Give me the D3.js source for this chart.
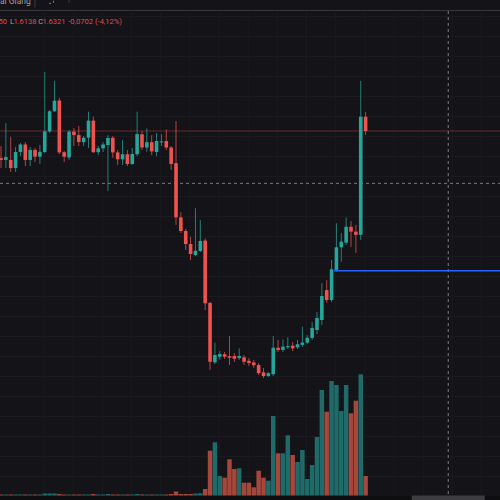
<!DOCTYPE html>
<html><head><meta charset="utf-8">
<script src="https://cdn.jsdelivr.net/npm/d3@7"></script>
<style>html,body{margin:0;padding:0;background:#141318;overflow:hidden}svg{display:block}</style>
</head><body><svg id="c" width="500" height="500"></svg>
<script>
// ---- data ----
const opens  = [1.500,1.490,1.490,1.450,1.529,1.566,1.490,1.539,1.506,1.529,1.630,1.729,1.782,1.528,1.502,1.629,1.612,1.577,1.599,1.683,
                1.528,1.547,1.563,1.599,1.527,1.493,1.518,1.470,1.518,1.616,1.551,1.577,1.529,1.576,1.583,1.551,1.474,1.208,1.141,1.077,
                1.023,1.043,1.094,0.788,0.496,0.524,0.536,0.527,0.527,0.517,0.521,0.504,0.496,0.483,0.447,0.429,0.438,0.568,0.557,0.570,
                0.578,0.570,0.582,0.593,0.616,0.655,0.704,0.851,0.802,0.950,1.061,1.084,1.162,1.138,1.122,1.7023];
const highs  = [1.558,1.671,1.603,1.554,1.573,1.578,1.554,1.549,1.563,1.922,1.735,1.879,1.794,1.534,1.637,1.647,1.657,1.608,1.727,1.702,
                1.558,1.578,1.612,1.608,1.539,1.588,1.539,1.549,1.727,1.632,1.645,1.612,1.622,1.617,1.640,1.558,1.681,1.233,1.151,1.113,
                1.253,1.195,1.105,0.793,0.593,0.552,0.547,0.625,0.542,0.565,0.532,0.517,0.508,0.493,0.468,0.449,0.625,0.606,0.609,0.619,
                0.596,0.606,0.671,0.630,0.694,0.743,0.886,0.900,0.999,1.179,1.131,1.208,1.190,1.171,1.879,1.7250];
const lows   = [1.450,1.450,1.431,1.431,1.509,1.460,1.460,1.480,1.470,1.524,1.622,1.725,1.519,1.480,1.490,1.558,1.558,1.558,1.549,1.524,
                1.514,1.529,1.337,1.500,1.465,1.465,1.460,1.465,1.509,1.539,1.530,1.514,1.509,1.558,1.539,1.441,1.171,1.131,1.048,0.999,
                1.018,1.038,0.753,0.459,0.488,0.508,0.513,0.483,0.498,0.508,0.483,0.478,0.468,0.434,0.419,0.424,0.429,0.547,0.547,0.562,
                0.552,0.562,0.572,0.587,0.606,0.635,0.679,0.788,0.792,0.940,0.990,1.072,1.063,1.033,1.097,1.6138];
const closes = [1.490,1.504,1.450,1.529,1.566,1.490,1.539,1.506,1.530,1.630,1.729,1.781,1.527,1.506,1.629,1.612,1.578,1.599,1.683,1.528,
                1.547,1.566,1.598,1.527,1.493,1.518,1.470,1.519,1.617,1.551,1.577,1.532,1.583,1.581,1.551,1.470,1.208,1.141,1.077,1.028,
                1.044,1.092,0.786,0.499,0.532,0.537,0.524,0.519,0.514,0.527,0.499,0.493,0.482,0.443,0.429,0.443,0.568,0.557,0.573,0.576,
                0.565,0.585,0.593,0.617,0.665,0.714,0.822,0.802,0.953,1.061,1.089,1.162,1.138,1.122,1.7023,1.6321];
const volumes = [1,1,1,1,1,1,1,1,1,2,2,2,1.5,1,1,1,1,1,1,1.5,
                 1,1,1.5,1,1,1,1,1,1.5,1,1,1,1,1,1,1.5,4,1.5,1.5,1.5,
                 2,2.2,6.5,44.8,53.2,19.5,17.8,36.2,26.5,27.2,12.8,12.8,8.2,24.8,17.8,14.8,79.5,42.2,42.2,60.2,
                 40.5,33.5,45.5,16.5,30.5,58.5,105.5,83.8,114.5,110.5,84.5,110.5,82.2,94.8,121.2,19.5];
const legendParts = [
  {t:"50", red:true, x:-1.5}, {t:"L", red:false, x:10}, {t:"1.6138", red:true, x:13.4},
  {t:"C", red:false, x:38.3}, {t:"1.6321", red:true, x:42.4}, {t:"-0,0702", red:true, x:68.3}, {t:"(-4,12%)", red:true, x:95}
];
const toolbarTitle = "al Giang";
const crosshairPrice = 1.375;
const alertPrice = 0.946;
const crosshairIndex = 92.0;

// ---- drawing ----
const W = 500, H = 500;
const svg = d3.select("#c");
const UP = "#26a69a", DOWN = "#ef5350";
const n = closes.length;

const x = d3.scaleLinear().domain([0, n - 1]).range([1, 365.6]);
const y = d3.scaleLinear().domain([2.2753, -0.1797]).range([0, 500]);
const yv = d3.scaleLinear().domain([0, 125]).range([495.5, 370.5]);

svg.append("rect").attr("width", W).attr("height", H).attr("fill", "#141318");

// faint grid
const grid = svg.append("g").attr("stroke", "#1b1a1f").attr("stroke-width", 1);
d3.range(16.5, 495, 20).forEach(v => grid.append("line").attr("x1", 0).attr("x2", W).attr("y1", v).attr("y2", v));
d3.range(8.85, 110, 6).forEach(i => grid.append("line").attr("x1", x(i)).attr("x2", x(i)).attr("y1", 12).attr("y2", 495));

// bottom time-axis strip
svg.append("rect").attr("x", 0).attr("y", 496).attr("width", W).attr("height", 4).attr("fill", "#0e0e11");

// toolbar
svg.append("line").attr("x1", 0).attr("x2", W).attr("y1", 10.5).attr("y2", 10.5).attr("stroke", "#38383e").attr("stroke-width", 1.2);
svg.append("text").attr("x", 0).attr("y", 4).attr("fill", "#9c9ca4").attr("font-family", "Roboto, sans-serif")
  .attr("font-size", 8.5).text(toolbarTitle);
svg.append("line").attr("x1", 35).attr("x2", 35).attr("y1", 0).attr("y2", 7.5).attr("stroke", "#3a3a40");
svg.append("line").attr("x1", 69).attr("x2", 69).attr("y1", 0).attr("y2", 3).attr("stroke", "#3a3a40");
svg.append("line").attr("x1", 49).attr("x2", 51).attr("y1", 3.3).attr("y2", 3.3).attr("stroke", "#77777d");
svg.append("line").attr("x1", 53.5).attr("x2", 53.5).attr("y1", 0.7).attr("y2", 2.8).attr("stroke", "#77777d");

// legend
const leg = svg.append("text").attr("y", 24).attr("font-family", "Roboto, sans-serif").attr("font-size", 7.5);
legendParts.forEach(p => leg.append("tspan").attr("x", p.x).attr("fill", p.red ? "#e0494a" : "#a3a6ae").text(p.t));

// current price line
const last = closes[n - 1];
svg.append("line").attr("x1", 0).attr("x2", W).attr("y1", y(last)).attr("y2", y(last))
  .attr("stroke", "#6a2a2e").attr("stroke-width", 1);

// crosshair
const ch = svg.append("g").attr("stroke", "#7a7a80").attr("stroke-width", 1).attr("stroke-dasharray", "3,3");
ch.append("line").attr("x1", 0).attr("x2", W).attr("y1", y(crosshairPrice)).attr("y2", y(crosshairPrice));
ch.append("line").attr("x1", x(crosshairIndex)).attr("x2", x(crosshairIndex)).attr("y1", 11).attr("y2", 495);
svg.append("rect").attr("x", x(crosshairIndex) - 36.5).attr("y", 495.5).attr("width", 73).attr("height", 5).attr("fill", "#3c3c41");

// volume
svg.append("g").selectAll("rect").data(volumes).join("rect")
  .attr("x", (d, i) => x(i) - 2.25).attr("width", 4.5)
  .attr("y", d => yv(d)).attr("height", d => yv(0) - yv(d))
  .attr("fill", (d, i) => closes[i] >= opens[i] ? "#1f6b69" : "#a5473b");

// candles
const cg = svg.append("g");
const idx = d3.range(n);
cg.selectAll("line").data(idx).join("line")
  .attr("x1", i => x(i)).attr("x2", i => x(i))
  .attr("y1", i => y(highs[i])).attr("y2", i => y(lows[i]))
  .attr("stroke", i => closes[i] >= opens[i] ? UP : DOWN).attr("stroke-opacity", 0.75).attr("stroke-width", 1);
cg.selectAll("rect").data(idx).join("rect")
  .attr("x", i => x(i) - 1.8).attr("width", 3.6)
  .attr("y", i => y(Math.max(opens[i], closes[i])))
  .attr("height", i => Math.max(1, Math.abs(y(opens[i]) - y(closes[i]))))
  .attr("fill", i => closes[i] >= opens[i] ? UP : DOWN);

// alert / horizontal level line
svg.append("line").attr("x1", x(68) + 2.5).attr("x2", W).attr("y1", y(alertPrice)).attr("y2", y(alertPrice))
  .attr("stroke", "#2962ff").attr("stroke-width", 1.5);
</script></body></html>
